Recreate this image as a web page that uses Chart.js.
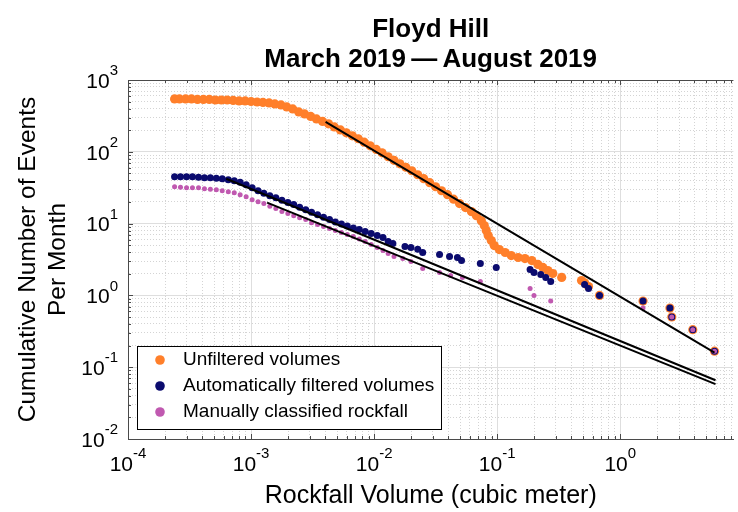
<!DOCTYPE html>
<html>
<head>
<meta charset="utf-8">
<script src="https://cdn.jsdelivr.net/npm/chart.js@4.4.0/dist/chart.umd.min.js"></script>
<style>
  html, body { margin: 0; padding: 0; background: #fff; }
</style>
</head>
<body>
<canvas id="grafico" width="738" height="512"></canvas>
<script>
// Volumen (m3) y numero acumulado de eventos por mes
const volUnfiltered = [
  2.39e-4, 2.62e-4, 2.94e-4, 3.28e-4, 3.67e-4, 4.10e-4, 4.58e-4, 5.13e-4, 5.73e-4, 6.40e-4,
  7.16e-4, 8.00e-4, 8.95e-4, 1.00e-3, 1.12e-3, 1.25e-3, 1.40e-3, 1.56e-3, 1.75e-3, 1.95e-3,
  2.18e-3, 2.44e-3, 2.72e-3, 3.05e-3, 3.40e-3, 3.81e-3, 4.26e-3, 4.75e-3, 5.32e-3, 5.94e-3,
  6.65e-3, 7.43e-3, 8.30e-3, 9.29e-3, 1.04e-2, 1.16e-2, 1.30e-2, 1.45e-2, 1.62e-2, 1.81e-2,
  2.02e-2, 2.26e-2, 2.53e-2, 2.83e-2, 3.16e-2, 3.53e-2, 3.95e-2, 4.42e-2, 4.94e-2, 5.52e-2,
  6.17e-2, 6.78e-2, 7.43e-2, 7.85e-2, 8.15e-2, 8.45e-2, 8.95e-2, 9.46e-2, 0.104, 0.116,
  0.130, 0.148, 0.168, 0.191, 0.214, 0.235, 0.258, 0.283, 0.334, 0.484,
  0.513, 0.552, 0.678, 1.53, 2.53, 2.62, 3.88, 5.83
];
const cumUnfiltered = [
  545, 545, 545, 545, 536, 536, 536, 527, 527, 527,
  519, 511, 511, 502, 494, 487, 480, 464, 450, 422,
  395, 359, 337, 311, 287, 265, 245, 222, 202, 184,
  167, 152, 136, 121, 108, 96.8, 85.3, 76.2, 68.1, 60.9,
  54.5, 47.9, 42.2, 37.1, 32.6, 28.7, 25.3, 21.9, 19.0, 16.7,
  14.7, 12.9, 11.0, 9.38, 8.00, 6.81, 5.80, 4.95, 4.35, 3.96,
  3.59, 3.37, 3.26, 3.06, 2.70, 2.45, 2.22, 2.02, 1.78, 1.61,
  1.50, 1.33, 1.00, 0.833, 0.667, 0.500, 0.333, 0.167
];

const volAuto = [
  2.39e-4, 2.67e-4, 2.99e-4, 3.34e-4, 3.74e-4, 4.18e-4, 4.67e-4, 5.22e-4, 5.83e-4, 6.53e-4,
  7.30e-4, 8.15e-4, 9.12e-4, 1.02e-3, 1.14e-3, 1.27e-3, 1.42e-3, 1.59e-3, 1.78e-3, 1.99e-3,
  2.22e-3, 2.48e-3, 2.78e-3, 3.10e-3, 3.47e-3, 3.88e-3, 4.34e-3, 4.84e-3, 5.42e-3, 6.05e-3,
  6.78e-3, 7.57e-3, 8.46e-3, 9.46e-3, 1.06e-2, 1.18e-2, 1.30e-2, 1.42e-2, 1.78e-2, 1.99e-2,
  2.26e-2, 2.48e-2, 3.40e-2, 4.10e-2, 4.75e-2, 5.13e-2, 7.29e-2, 9.82e-2, 0.185, 0.199,
  0.226, 0.248, 0.272, 0.513, 0.552, 0.678, 1.53, 2.53, 2.62, 3.88, 5.83
];
const cumAuto = [
  45.0, 45.0, 45.0, 45.0, 44.2, 43.5, 43.5, 42.8, 42.2, 40.8,
  39.5, 37.7, 34.8, 31.6, 28.7, 26.5, 24.5, 23.0, 21.2, 19.6,
  18.4, 16.9, 15.6, 14.4, 13.3, 12.3, 11.4, 10.5, 9.84, 9.23,
  8.66, 8.26, 7.74, 7.26, 6.81, 6.39, 5.62, 5.27, 4.80, 4.65,
  4.40, 3.96, 3.71, 3.48, 3.37, 3.06, 2.78, 2.45, 2.30, 2.08,
  1.96, 1.78, 1.56, 1.42, 1.25, 1.00, 0.833, 0.667, 0.500, 0.333, 0.167
];

const volManual = [
  2.39e-4, 2.67e-4, 2.99e-4, 3.34e-4, 3.74e-4, 4.18e-4, 4.67e-4, 5.22e-4, 5.83e-4, 6.53e-4,
  7.30e-4, 8.15e-4, 9.12e-4, 1.02e-3, 1.14e-3, 1.27e-3, 1.42e-3, 1.59e-3, 1.78e-3, 1.99e-3,
  2.22e-3, 2.48e-3, 2.78e-3, 3.10e-3, 3.47e-3, 3.88e-3, 4.34e-3, 4.84e-3, 5.42e-3, 6.05e-3,
  6.78e-3, 7.57e-3, 8.46e-3, 9.46e-3, 1.06e-2, 1.18e-2, 1.30e-2, 1.45e-2, 1.71e-2, 1.99e-2,
  2.48e-2, 3.40e-2, 4.18e-2, 5.22e-2, 7.29e-2, 0.185, 0.199, 0.272, 1.53, 2.62, 3.88, 5.83
];
const cumManual = [
  32.6, 32.1, 31.6, 31.6, 31.6, 30.6, 30.1, 29.7, 28.7, 27.8,
  27.0, 25.3, 23.7, 21.5, 20.2, 19.0, 17.5, 16.2, 14.7, 13.8,
  12.9, 12.1, 11.4, 10.3, 9.68, 9.08, 8.53, 8.00, 7.50, 7.03,
  6.59, 6.09, 5.62, 5.11, 4.64, 4.22, 3.83, 3.48, 3.26, 2.97,
  2.37, 2.08, 1.90, 1.78, 1.56, 1.25, 1.00, 0.833, 0.667, 0.500, 0.333, 0.167
];

// Ajustes de ley de potencia: extremos [inicio, fin]
const fitUnfilteredVol = [4.03e-3, 5.83];
const fitUnfilteredCum = [261, 0.16];
const fitAutoVol = [6.28e-4, 5.94];
const fitAutoCum = [42.2, 0.0659];
const fitManualVol = [1.35e-3, 5.94];
const fitManualCum = [19.6, 0.0581];

// Exponentes de las decadas etiquetadas
const xTickExps = [-4, -3, -2, -1, 0];
const yTickExps = [-2, -1, 0, 1, 2, 3];

const FONT = '"Liberation Sans", Arial, Helvetica, sans-serif';
const COLOR_UNF = '#ff7f2a';
const COLOR_AUTO = '#0b0b6e';
const COLOR_MAN = '#c059b0';

function puntos(xs, ys) {
  return xs.map((v, i) => ({ x: v, y: ys[i] }));
}

// marcas 1..9 por decada, sin la de 1.5 que mete Chart.js
function ticksLog(exps, max) {
  const t = [];
  const lo = Math.min(...exps), hi = Math.max(...exps);
  for (let e = lo; e <= hi; e++) {
    for (let m = 1; m <= 9; m++) {
      const v = m * Math.pow(10, e);
      if (v <= max * 1.0001) t.push({ value: v, major: m === 1 });
    }
  }
  return t;
}

const X_MIN = 1e-4, X_MAX = 8.3;
const Y_MIN = 1e-2, Y_MAX = 1e3;

function potencia(ctx, exp, x, y, align) {
  const base = '10', sup = String(exp);
  ctx.font = '21px ' + FONT;
  const wb = ctx.measureText(base).width;
  ctx.font = '15px ' + FONT;
  const ws = ctx.measureText(sup).width;
  const x0 = align === 'right' ? x - wb - ws : x - (wb + ws) / 2;
  ctx.textAlign = 'left';
  ctx.textBaseline = 'middle';
  ctx.fillStyle = '#000';
  ctx.font = '21px ' + FONT;
  ctx.fillText(base, x0, y);
  ctx.font = '15px ' + FONT;
  ctx.fillText(sup, x0 + wb, y - 11);
}

const ejesMatlab = {
  id: 'ejesMatlab',
  afterDraw(chart) {
    const { ctx, chartArea: a, scales: { x, y } } = chart;
    ctx.save();
    // caja superior y marcas hacia dentro
    ctx.strokeStyle = '#4a4a4a';
    ctx.lineWidth = 1;
    ctx.beginPath();
    ctx.moveTo(a.left, a.top + 0.5);
    ctx.lineTo(a.right, a.top + 0.5);
    x.ticks.forEach(t => {
      const px = Math.round(x.getPixelForValue(t.value)) + 0.5;
      const len = t.major ? 5 : 3;
      ctx.moveTo(px, a.bottom); ctx.lineTo(px, a.bottom - len);
      ctx.moveTo(px, a.top); ctx.lineTo(px, a.top + len);
    });
    y.ticks.forEach(t => {
      const py = Math.round(y.getPixelForValue(t.value)) + 0.5;
      const len = t.major ? 5 : 3;
      ctx.moveTo(a.left, py); ctx.lineTo(a.left + len, py);
    });
    ctx.stroke();

    // etiquetas 10^n
    xTickExps.forEach(e => {
      potencia(ctx, e, x.getPixelForValue(Math.pow(10, e)), a.bottom + 26, 'center');
    });
    yTickExps.forEach(e => {
      potencia(ctx, e, a.left - 10, y.getPixelForValue(Math.pow(10, e)) + 2, 'right');
    });

    // leyenda dentro del area
    const lx = 137.5, ly = 346.5, lw = 304, lh = 83;
    ctx.fillStyle = '#fff';
    ctx.fillRect(lx, ly, lw, lh);
    ctx.strokeStyle = '#000';
    ctx.strokeRect(lx, ly, lw, lh);
    const series = chart.data.datasets.filter(d => !d.showLine);
    series.forEach((d, i) => {
      const cy = 360 + i * 26;
      ctx.fillStyle = d.backgroundColor;
      ctx.beginPath();
      ctx.arc(160, cy, 4.8, 0, Math.PI * 2);
      ctx.fill();
      ctx.fillStyle = '#000';
      ctx.font = '19px ' + FONT;
      ctx.textAlign = 'left';
      ctx.textBaseline = 'middle';
      ctx.fillText(d.label, 183, cy);
    });
    ctx.restore();
  }
};

const gridColor = c => (c.tick && c.tick.major) ? '#dedede' : '#d4d4d4';
const gridDash = c => (c.tick && !c.tick.major) ? [1, 2] : [];

new Chart(document.getElementById('grafico'), {
  type: 'scatter',
  data: {
    datasets: [
      {
        label: 'Unfiltered volumes',
        data: puntos(volUnfiltered, cumUnfiltered),
        backgroundColor: COLOR_UNF,
        pointRadius: 4.6,
        pointBorderWidth: 0,
        order: 3
      },
      {
        label: 'Automatically filtered volumes',
        data: puntos(volAuto, cumAuto),
        backgroundColor: COLOR_AUTO,
        pointRadius: 3.5,
        pointBorderWidth: 0,
        order: 2
      },
      {
        label: 'Manually classified rockfall',
        data: puntos(volManual, cumManual),
        backgroundColor: COLOR_MAN,
        pointRadius: 2.5,
        pointBorderWidth: 0,
        order: 1
      },
      {
        label: 'fit unfiltered',
        data: puntos(fitUnfilteredVol, fitUnfilteredCum),
        showLine: true, borderColor: '#000', borderWidth: 2, pointRadius: 0, order: 0
      },
      {
        label: 'fit auto',
        data: puntos(fitAutoVol, fitAutoCum),
        showLine: true, borderColor: '#000', borderWidth: 2, pointRadius: 0, order: 0
      },
      {
        label: 'fit manual',
        data: puntos(fitManualVol, fitManualCum),
        showLine: true, borderColor: '#000', borderWidth: 2, pointRadius: 0, order: 0
      }
    ]
  },
  options: {
    responsive: false,
    animation: false,
    events: [],
    layout: { padding: 0 },
    plugins: {
      legend: { display: false },
      tooltip: { enabled: false },
      title: {
        display: true,
        fullSize: false,
        text: ['Floyd Hill', 'March 2019\u2009\u2014\u2009August 2019'],
        color: '#000',
        font: { family: FONT, size: 26, weight: 'bold', lineHeight: 1.154 },
        padding: { top: 15, bottom: 5 }
      }
    },
    scales: {
      x: {
        type: 'logarithmic',
        min: X_MIN,
        max: X_MAX,
        afterBuildTicks: s => { s.ticks = ticksLog(xTickExps, X_MAX); },
        afterFit: s => { s.height = 73; },
        ticks: { display: false },
        grid: { color: gridColor, drawTicks: false },
        border: { color: '#4a4a4a', width: 1, dash: gridDash },
        title: {
          display: true,
          text: 'Rockfall Volume (cubic meter)',
          color: '#000',
          font: { family: FONT, size: 25, lineHeight: 1.2 },
          padding: { top: 0, bottom: 1 }
        }
      },
      y: {
        type: 'logarithmic',
        min: Y_MIN,
        max: Y_MAX,
        afterBuildTicks: s => { s.ticks = ticksLog(yTickExps, Y_MAX); },
        afterFit: s => { s.width = 128; },
        ticks: { display: false },
        grid: { color: gridColor, drawTicks: false },
        border: { color: '#4a4a4a', width: 1, dash: gridDash },
        title: {
          display: true,
          text: ['Cumulative Number of Events', 'Per Month'],
          color: '#000',
          font: { family: FONT, size: 24.5, lineHeight: 1.22 },
          padding: { top: 13, bottom: 0 }
        }
      }
    }
  },
  plugins: [ejesMatlab]
});
</script>
</body>
</html>
